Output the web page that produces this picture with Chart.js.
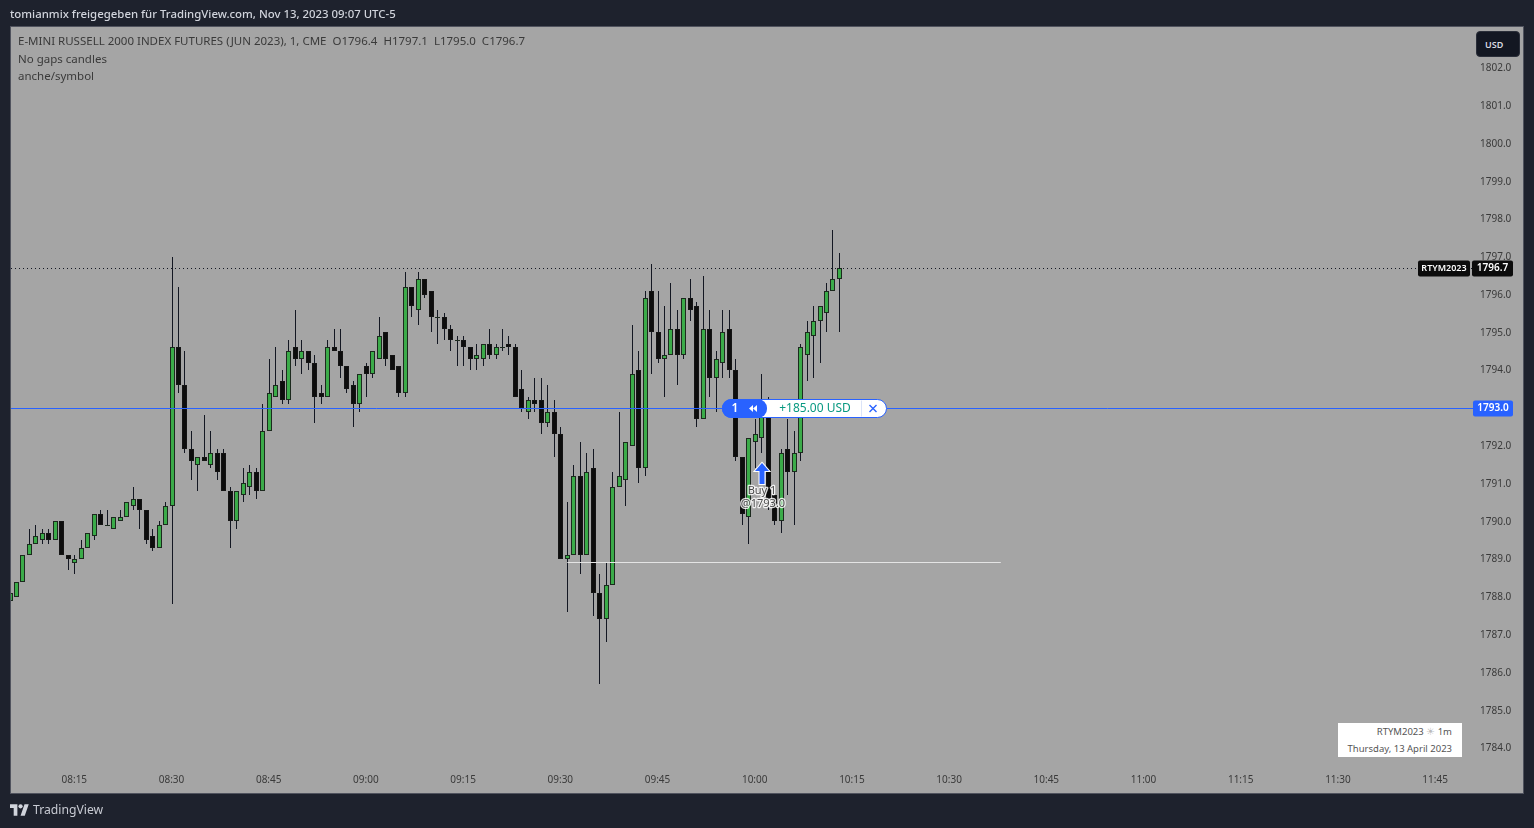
<!DOCTYPE html>
<html>
<head>
<meta charset="utf-8">
<title>RTYM2023 1m</title>
<script src="https://cdn.jsdelivr.net/npm/chart.js"></script>
<style>
  html, body { margin: 0; padding: 0; width: 1534px; height: 828px; overflow: hidden; background: #1e222d; }
  #wrap { position: absolute; left: 0; top: 0; width: 1534px; height: 828px; }
  canvas { position: absolute; left: 0; top: 0; }
  .txt { position: absolute; white-space: pre; font-family: "Noto Sans", sans-serif; line-height: 16px; }
  #shared { left: 10px; top: 6px; font-size: 11.4px; font-weight: 500; color: #d1d4dc; }
  .legend { left: 18px; font-size: 11.5px; color: #3a3a3a; }
  #brand { left: 33px; top: 802px; font-size: 12.2px; color: #c8cbd3; }
  #logo { position: absolute; left: 10px; top: 804px; }
  #infoBox { position: absolute; left: 1338px; top: 723px; width: 124px; height: 34px; background: #fff; }
  #infoBox div { position: absolute; right: 10px; font: 9.5px "Noto Sans", sans-serif; color: #555; white-space: pre; line-height: 14px; }
  #usd { position: absolute; left: 1476px; top: 31px; width: 44px; height: 26px; border-radius: 4px; background: #131722; color: #d8dae0;
         font: 600 9px/25px "Noto Sans", sans-serif; border: 1px solid #2a2e39; box-sizing: border-box; padding-left: 8px; }
</style>
</head>
<body>
<div id="wrap">
  <canvas id="candleChart" width="1534" height="828"></canvas>
  <div class="txt" id="shared">tomianmix freigegeben für TradingView.com, Nov 13, 2023 09:07 UTC-5</div>
  <div class="txt legend" style="top:33px">E-MINI RUSSELL 2000 INDEX FUTURES (JUN 2023), 1, CME  O1796.4  H1797.1  L1795.0  C1796.7</div>
  <div class="txt legend" style="top:51px">No gaps candles</div>
  <div class="txt legend" style="top:68px">anche/symbol</div>
  <div id="usd">USD</div>
  <div id="infoBox">
    <div style="top:2px">RTYM2023 <span style="color:#bbb">☀</span> 1m</div>
    <div style="top:19px">Thursday, 13 April 2023</div>
  </div>
  <svg id="logo" width="19" height="12" viewBox="0 0 36 22"><path fill="#d1d4dc" d="M14 22H7V7H0V0h14v22zM28 22h-8l7.5-22h8L28 22z"/><circle fill="#d1d4dc" cx="20" cy="4" r="4"/></svg>
  <div class="txt" id="brand">TradingView</div>
</div>
<script>
const firstMinute = 485; // 08:05

const opens = [
  1787.9,1788.0,1788.4,1789.1,1789.4,1789.5,1789.7,1789.5,1790.0,1789.1,
  1788.9,1789.0,1789.3,1789.6,1790.2,1789.9,1789.8,1790.0,1790.1,1790.4,
  1790.6,1790.3,1789.6,1789.3,1789.9,1790.4,1794.6,1793.6,1791.9,1791.5,
  1791.7,1791.5,1791.8,1791.8,1790.8,1790.0,1790.7,1790.9,1791.3,1790.8,
  1792.4,1793.3,1793.7,1793.2,1794.6,1794.3,1794.5,1794.2,1793.4,1793.3,
  1794.6,1794.5,1794.1,1793.6,1793.1,1794.1,1793.9,1794.3,1795.0,1794.4,
  1794.1,1793.4,1796.2,1795.6,1796.4,1796.1,1795.4,1795.4,1795.1,1794.8,
  1794.8,1794.6,1794.3,1794.3,1794.7,1794.4,1794.6,1794.7,1794.6,1793.5,
  1792.9,1793.2,1793.2,1792.6,1792.9,1792.3,1789.0,1789.1,1791.2,1789.1,
  1791.4,1788.1,1787.4,1788.3,1790.9,1791.1,1792.0,1794.0,1791.4,1796.1,
  1795.0,1794.3,1794.4,1795.1,1794.4,1795.9,1795.7,1792.7,1795.1,1793.8,
  1794.2,1795.1,1794.0,1791.7,1790.1,1792.1,1792.2,1792.9,1790.7,1790.0,
  1791.9,1791.3,1791.8,1794.4,1794.9,1795.3,1795.5,1796.1,1796.4
];
const highs = [
  1788.3,1788.4,1789.1,1789.8,1789.9,1789.8,1789.8,1790.0,1790.0,1789.1,
  1789.1,1789.5,1789.7,1790.2,1790.3,1790.3,1790.1,1790.3,1790.5,1790.9,
  1790.6,1790.3,1789.8,1790.0,1790.5,1797.0,1796.2,1794.5,1792.4,1791.7,
  1792.8,1792.4,1791.9,1791.9,1790.9,1790.8,1791.4,1791.5,1791.4,1793.1,
  1794.3,1794.6,1794.0,1794.8,1795.6,1794.8,1794.5,1794.4,1793.6,1794.8,
  1795.1,1795.1,1794.1,1793.7,1793.9,1794.2,1794.5,1795.4,1795.0,1794.4,
  1794.1,1796.6,1796.2,1796.6,1796.4,1796.1,1795.6,1795.5,1795.2,1794.9,
  1794.9,1794.6,1794.7,1794.7,1795.1,1794.7,1795.1,1794.9,1794.7,1794.0,
  1793.3,1793.8,1793.8,1793.6,1793.2,1792.5,1790.5,1791.5,1792.1,1791.8,
  1791.9,1788.6,1788.9,1791.3,1792.9,1792.1,1795.2,1794.5,1796.1,1796.8,
  1796.1,1795.7,1796.3,1795.6,1795.9,1796.4,1795.8,1796.5,1795.6,1794.5,
  1795.6,1795.6,1794.3,1791.7,1792.2,1792.7,1793.9,1793.3,1790.7,1791.9,
  1792.7,1792.4,1794.7,1795.3,1795.7,1795.7,1796.3,1797.7,1797.1
];
const lows = [
  1787.9,1788.0,1788.4,1789.1,1789.4,1789.4,1789.4,1789.5,1789.1,1788.7,
  1788.6,1789.0,1789.3,1789.5,1789.9,1789.9,1789.8,1790.0,1790.1,1790.3,
  1789.8,1789.4,1789.2,1789.3,1789.9,1787.8,1793.4,1791.8,1791.1,1790.8,
  1791.6,1791.4,1791.1,1790.8,1789.3,1789.8,1790.5,1790.7,1790.6,1790.8,
  1792.4,1793.3,1793.1,1793.1,1794.1,1793.9,1794.0,1792.6,1793.1,1793.3,
  1794.5,1793.8,1793.4,1792.5,1792.9,1793.3,1793.8,1794.3,1794.1,1794.0,
  1793.3,1793.3,1795.4,1795.2,1795.9,1795.0,1794.7,1794.8,1794.5,1794.1,
  1794.1,1794.0,1794.0,1794.1,1794.3,1794.3,1794.5,1794.4,1793.3,1792.9,
  1792.7,1792.9,1792.3,1792.5,1791.7,1789.0,1787.6,1789.1,1788.6,1789.1,
  1787.5,1785.7,1786.8,1788.3,1790.9,1790.4,1792.0,1791.0,1791.2,1793.9,
  1794.2,1793.3,1794.4,1793.6,1794.3,1795.3,1792.5,1792.7,1793.3,1792.9,
  1793.8,1793.8,1791.6,1789.9,1789.4,1791.4,1791.8,1790.3,1789.9,1789.7,
  1790.7,1789.9,1791.6,1793.7,1793.8,1794.2,1795.0,1796.1,1795.0
];
const closes = [
  1788.1,1788.4,1789.1,1789.4,1789.6,1789.7,1789.5,1790.0,1789.1,1789.0,
  1789.0,1789.3,1789.7,1790.2,1789.9,1789.9,1790.1,1790.1,1790.5,1790.6,
  1790.3,1789.5,1789.3,1789.9,1790.4,1794.6,1793.6,1791.9,1791.6,1791.7,
  1791.6,1791.8,1791.3,1790.8,1790.0,1790.8,1791.0,1791.3,1790.8,1792.4,
  1793.4,1793.6,1793.2,1794.5,1794.3,1794.5,1794.2,1793.3,1793.3,1794.6,
  1794.5,1794.1,1793.5,1793.1,1793.9,1793.9,1794.5,1794.9,1794.3,1794.0,
  1793.4,1796.2,1795.7,1796.4,1796.0,1795.4,1795.4,1795.1,1794.8,1794.8,
  1794.6,1794.3,1794.4,1794.7,1794.4,1794.6,1794.6,1794.6,1793.3,1793.0,
  1793.2,1793.1,1792.6,1792.9,1792.3,1789.0,1789.1,1791.2,1789.1,1791.3,
  1788.1,1787.4,1788.3,1790.9,1791.2,1792.1,1793.9,1791.4,1795.9,1795.0,
  1794.3,1794.4,1795.1,1794.4,1795.9,1795.6,1792.7,1795.1,1793.8,1794.3,
  1795.0,1794.0,1791.7,1790.2,1792.2,1792.3,1792.9,1790.6,1790.0,1791.8,
  1791.3,1791.8,1794.6,1795.0,1795.3,1795.7,1796.1,1796.4,1796.7
];

const priceTicks = [1784,1785,1786,1787,1788,1789,1790,1791,1792,1793,1794,1795,1796,1797,1798,1799,1800,1801,1802];
const timeTicks = ["08:15","08:30","08:45","09:00","09:15","09:30","09:45","10:00","10:15","10:30","10:45","11:00","11:15","11:30","11:45"];

const lastPrice = 1796.7;
const positionPrice = 1793.0;
const levelPrice = 1788.92;
const levelFrom = 571;
const levelTo = 637.9;
const buyMinute = 601; // 10:01

const xMin = 485.154, xMax = 710.77;
const yMin = 1783.47, yMax = 1803.08;

const toMinutes = s => parseInt(s.slice(0, 2)) * 60 + parseInt(s.slice(3));
const toClock = m => String(Math.floor(m / 60)).padStart(2, "0") + ":" + String(m % 60).padStart(2, "0");
const tickFont = { family: "'Noto Sans', sans-serif", size: 10 };
const up = i => closes[i] >= opens[i];
const snapLine = y => Math.round(y) + 0.5;

// keep TV-like crisp pixels: snap what the scales computed to whole pixels
const snapPixels = {
  id: "snapPixels",
  afterDatasetsUpdate(chart) {
    chart.getSortedVisibleDatasetMetas().forEach(meta => {
      meta.data.forEach(el => {
        if (meta.type === "bar") {
          el.x = Math.floor(el.x) + 0.5;
          el.y = Math.round(el.y);
          el.base = Math.round(el.base);
          if (el.y === el.base) el.base += 1;
        } else {
          el.y = snapLine(el.y);
        }
      });
    });
  }
};

const panel = {
  id: "panel",
  beforeDraw(chart) {
    const c = chart.ctx;
    c.fillStyle = "#a5a5a5";
    c.fillRect(11, 27, 1512, 766);
    c.strokeStyle = "#50535e";
    c.strokeRect(10.5, 26.5, 1513, 767);
  }
};

function priceTag(c, x, y, w, text, bg, size) {
  c.fillStyle = bg;
  c.beginPath();
  c.roundRect(x, y - 8, w, 16, 2);
  c.fill();
  c.fillStyle = "#fff";
  c.font = "600 " + size + "px 'Noto Sans', sans-serif";
  c.textAlign = "center";
  c.textBaseline = "middle";
  c.fillText(text, x + w / 2, y);
}

const overlays = {
  id: "overlays",
  afterDraw(chart) {
    const c = chart.ctx;
    const sy = chart.scales.y, sx = chart.scales.x;
    const lastY = snapLine(sy.getPixelForValue(lastPrice));
    const posY = snapLine(sy.getPixelForValue(positionPrice));
    c.save();

    // right side tags
    priceTag(c, 1418, lastY, 52, "RTYM2023", "#0c0c0c", 9);
    priceTag(c, 1472, lastY, 41, lastPrice.toFixed(1), "#0c0c0c", 10);
    priceTag(c, 1473, posY, 40, positionPrice.toFixed(1), "#2962ff", 10);

    // position pill
    c.fillStyle = "#fff";
    c.strokeStyle = "#2962ff";
    c.lineWidth = 1;
    c.beginPath();
    c.roundRect(722.5, posY - 9, 164, 18, 9);
    c.fill();
    c.stroke();
    c.fillStyle = "#2962ff";
    c.beginPath();
    c.roundRect(722, posY - 9.5, 45, 19, 9);
    c.fill();
    c.fillStyle = "#fff";
    c.font = "600 12px 'Noto Sans', sans-serif";
    c.textAlign = "center";
    c.textBaseline = "middle";
    c.fillText("1", 735, posY);
    [753, 757].forEach(x => {
      c.beginPath();
      c.moveTo(x, posY - 3.5);
      c.lineTo(x, posY + 3.5);
      c.lineTo(x - 4, posY);
      c.closePath();
      c.fill();
    });
    c.fillStyle = "#089981";
    c.font = "12px 'Noto Sans', sans-serif";
    c.fillText("+185.00 USD", 815, posY);
    c.strokeStyle = "#dbe4f8";
    c.beginPath();
    c.moveTo(861.5, posY - 8);
    c.lineTo(861.5, posY + 8);
    c.stroke();
    c.strokeStyle = "#2962ff";
    c.lineWidth = 1.4;
    c.beginPath();
    c.moveTo(869.5, posY - 3.5);
    c.lineTo(876.5, posY + 3.5);
    c.moveTo(876.5, posY - 3.5);
    c.lineTo(869.5, posY + 3.5);
    c.stroke();

    // buy marker
    const bx = Math.round(sx.getPixelForValue(buyMinute));
    const tip = 463;
    c.beginPath();
    c.moveTo(bx, tip);
    c.lineTo(bx + 7, tip + 8);
    c.lineTo(bx + 2.5, tip + 8);
    c.lineTo(bx + 2.5, tip + 21);
    c.lineTo(bx - 2.5, tip + 21);
    c.lineTo(bx - 2.5, tip + 8);
    c.lineTo(bx - 7, tip + 8);
    c.closePath();
    c.fillStyle = "#2962ff";
    c.strokeStyle = "#fff";
    c.lineWidth = 2;
    c.stroke();
    c.fill();

    c.font = "11px 'Noto Sans', sans-serif";
    c.lineWidth = 2.5;
    c.lineJoin = "round";
    c.strokeStyle = "rgba(255,255,255,0.85)";
    c.fillStyle = "#4a4a4a";
    c.strokeText("Buy 1", bx, 491);
    c.fillText("Buy 1", bx, 491);
    c.strokeText("@" + positionPrice.toFixed(1), bx + 1, 504);
    c.fillText("@" + positionPrice.toFixed(1), bx + 1, 504);
    c.restore();
  }
};

const minutes = opens.map((_, i) => firstMinute + i);

new Chart(document.getElementById("candleChart"), {
  type: "bar",
  data: {
    datasets: [
      {
        label: "Wicks",
        data: minutes.map((m, i) => ({ x: m, y: [lows[i], highs[i]] })),
        backgroundColor: "#131722",
        borderWidth: 0,
        inflateAmount: 0,
        barThickness: 1,
        grouped: false,
        order: 3
      },
      {
        label: "Bodies",
        data: minutes.map((m, i) => ({ x: m, y: [opens[i], closes[i]] })),
        backgroundColor: ctx => up(ctx.dataIndex) ? "#3bab49" : "#0d0d0d",
        borderColor: ctx => up(ctx.dataIndex) ? "#1c2a1e" : "#141414",
        borderWidth: 1,
        borderSkipped: false,
        inflateAmount: 0,
        barThickness: 5,
        grouped: false,
        order: 2
      },
      {
        type: "line",
        label: "Last",
        data: [{ x: xMin, y: lastPrice }, { x: xMax, y: lastPrice }],
        borderColor: "#131722",
        borderWidth: 1,
        borderDash: [1, 3],
        pointRadius: 0,
        order: 1
      },
      {
        type: "line",
        label: "Level",
        data: [{ x: levelFrom, y: levelPrice }, { x: levelTo, y: levelPrice }],
        borderColor: "#e4e4e4",
        borderWidth: 1,
        pointRadius: 0,
        order: 1
      },
      {
        type: "line",
        label: "Position",
        data: [{ x: xMin, y: positionPrice }, { x: xMax, y: positionPrice }],
        borderColor: "#2962ff",
        borderWidth: 1,
        pointRadius: 0,
        order: 0
      }
    ]
  },
  options: {
    responsive: false,
    animation: false,
    devicePixelRatio: 1,
    layout: { padding: { left: 11, top: 27, right: 11, bottom: 35 } },
    plugins: { legend: { display: false }, tooltip: { enabled: false } },
    scales: {
      x: {
        type: "linear",
        offset: false,
        min: xMin,
        max: xMax,
        bounds: "data",
        grid: { display: false, drawTicks: false },
        border: { display: false },
        afterBuildTicks: s => { s.ticks = timeTicks.map(t => ({ value: toMinutes(t) })); },
        afterFit: s => { s.height = 25; },
        ticks: {
          autoSkip: false,
          maxRotation: 0,
          padding: 6,
          labelOffset: -0.5,
          color: "#3a3a3a",
          font: tickFont,
          callback: v => toClock(v)
        }
      },
      y: {
        position: "right",
        min: yMin,
        max: yMax,
        bounds: "data",
        grid: { display: false, drawTicks: false },
        border: { display: false },
        afterBuildTicks: s => { s.ticks = priceTicks.map(v => ({ value: v })); },
        afterFit: s => { s.width = 50; },
        ticks: {
          autoSkip: false,
          padding: 7,
          labelOffset: 0.5,
          color: "#3a3a3a",
          font: tickFont,
          callback: v => v.toFixed(1)
        }
      }
    }
  },
  plugins: [panel, snapPixels, overlays]
});
</script>
</body>
</html>
